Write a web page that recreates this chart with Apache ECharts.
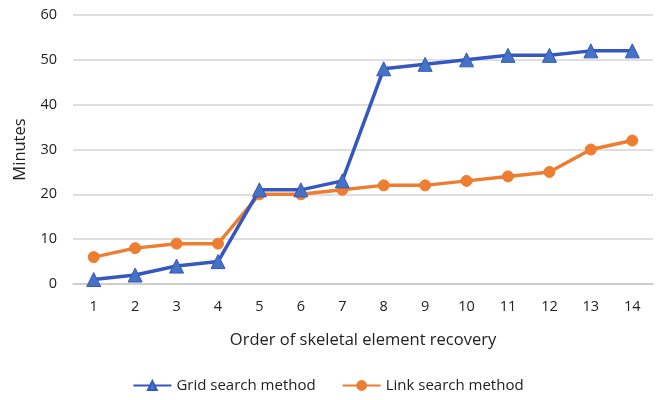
<!DOCTYPE html>
<html>
<head>
<meta charset="utf-8">
<script src="https://cdn.jsdelivr.net/npm/echarts@6/dist/echarts.min.js"></script>
<style>
  html, body { margin: 0; padding: 0; background: #fff; }
  #chart { width: 656px; height: 400px; }
</style>
</head>
<body>
<div id="chart"></div>
<script>
"use strict";
const categories = ["1", "2", "3", "4", "5", "6", "7", "8", "9", "10", "11", "12", "13", "14"];
const gridSearch = [1, 2, 4, 5, 21, 21, 23, 48, 49, 50, 51, 51, 52, 52];
const linkSearch = [6, 8, 9, 9, 20, 20, 21, 22, 22, 23, 24, 25, 30, 32];
const yTicks = [0, 10, 20, 30, 40, 50, 60];

const font = "'Open Sans', sans-serif";
const chart = echarts.init(document.getElementById("chart"), null, { renderer: "canvas" });
chart.setOption({
    animation: false,
    textStyle: { fontFamily: font },
    grid: { left: 73, right: 3, top: 15, bottom: 116 },
    legend: {
        bottom: 2,
        left: "center",
        itemWidth: 38,
        itemHeight: 11,
        itemGap: 26,
        textStyle: { fontFamily: font, fontSize: 15, color: "#222" },
        data: ["Grid search method", "Link search method"],
    },
    xAxis: {
        type: "category",
        data: categories,
        boundaryGap: true,
        name: "Order of skeletal element recovery",
        nameLocation: "middle",
        nameGap: 48,
        nameTextStyle: { fontSize: 16.5, color: "#222", fontFamily: font },
        axisLine: { lineStyle: { color: "#c8c8c8", width: 1.5 } },
        axisTick: { show: false },
        axisLabel: { fontSize: 14.5, color: "#222", margin: 15 },
    },
    yAxis: {
        type: "value",
        min: yTicks[0],
        max: yTicks[yTicks.length - 1],
        interval: 10,
        name: "Minutes",
        nameLocation: "middle",
        nameGap: 44,
        nameTextStyle: { fontSize: 16.5, color: "#222", fontFamily: font },
        axisLine: { show: false },
        axisTick: { show: false },
        axisLabel: { fontSize: 14.5, color: "#222", margin: 16 },
        splitLine: { lineStyle: { color: "#d4d4d4", width: 1.5 } },
    },
    series: [
        {
            name: "Grid search method",
            type: "line",
            data: gridSearch,
            symbol: "triangle",
            symbolSize: 14,
            lineStyle: { color: "#3557c0", width: 3.5 },
            itemStyle: { color: "#4472c4", borderColor: "#3557c0", borderWidth: 1 },
            z: 3,
        },
        {
            name: "Link search method",
            type: "line",
            data: linkSearch,
            symbol: "circle",
            symbolSize: 11,
            lineStyle: { color: "#ed7d31", width: 3.5 },
            itemStyle: { color: "#ed7d31", borderColor: "#ed7d31", borderWidth: 1 },
            z: 2,
        },
    ],
});
</script>
</body>
</html>
